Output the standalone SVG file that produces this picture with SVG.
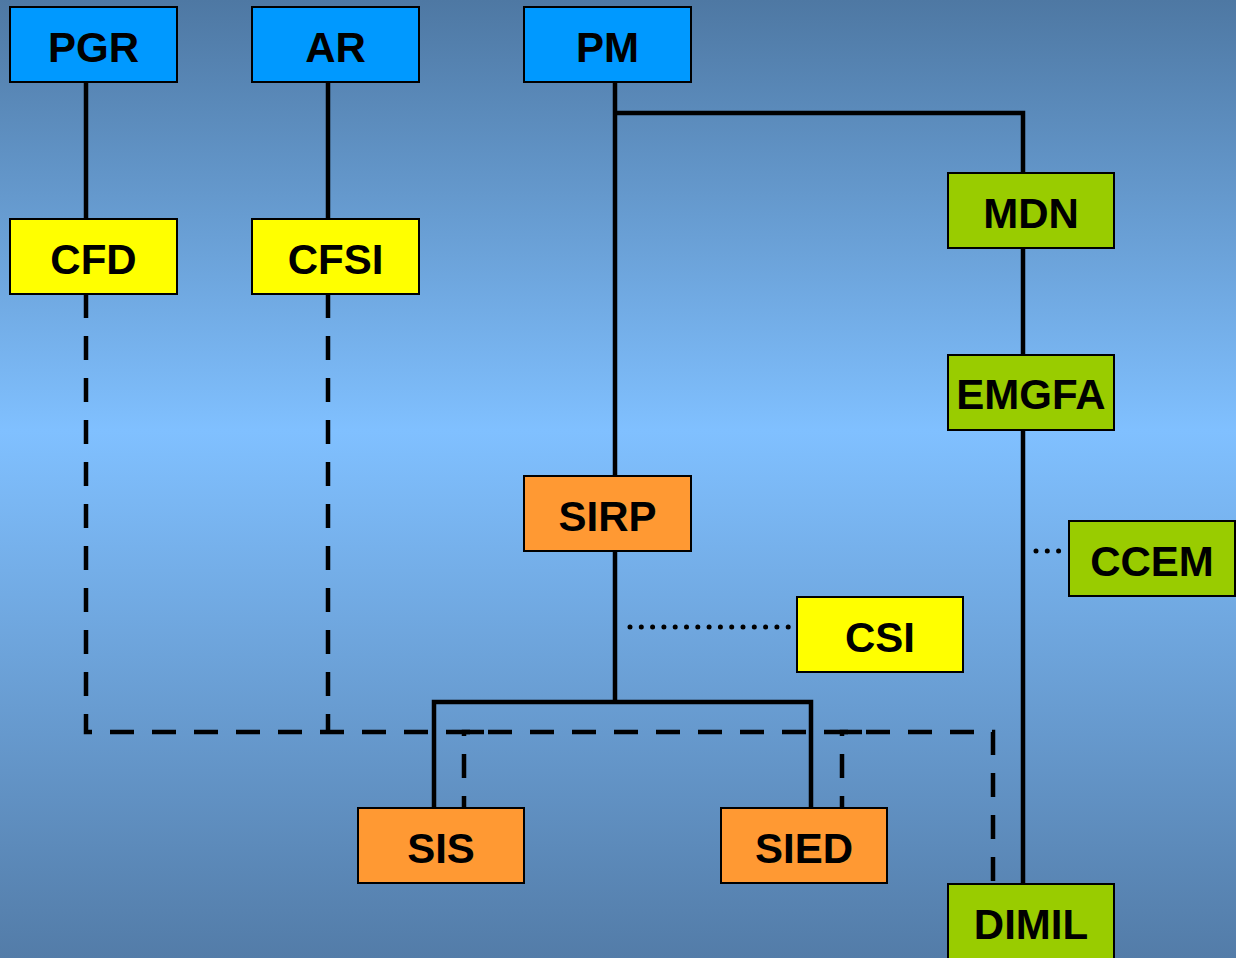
<svg xmlns="http://www.w3.org/2000/svg" width="1236" height="958" viewBox="0 0 1236 958">
<defs>
<linearGradient id="bg" x1="0" y1="0" x2="0" y2="1">
<stop offset="0" stop-color="#4e78a3"/>
<stop offset="0.45" stop-color="#80c0ff"/>
<stop offset="1" stop-color="#537ca8"/>
</linearGradient>
<style>
.box{stroke:#000;stroke-width:2}
.blue{fill:#0099ff}
.yellow{fill:#ffff00}
.green{fill:#99cc00}
.orange{fill:#ff9933}
.lbl{font-family:"Liberation Sans",Arial,sans-serif;font-weight:bold;font-size:42px;fill:#000;text-anchor:middle}
.solid{fill:none;stroke:#000;stroke-width:4.5}
.dash{fill:none;stroke:#000;stroke-width:4.5;stroke-dasharray:24 18}
.dot{fill:none;stroke:#000;stroke-width:5;stroke-linecap:round;stroke-dasharray:0 11.3}
</style>
</defs>
<rect x="0" y="0" width="1236" height="958" fill="url(#bg)"/>
<g id="connectors">
<path class="solid" d="M86,82 V219"/>
<path class="solid" d="M328,82 V219"/>
<path class="solid" d="M615,82 V476"/>
<path class="solid" d="M615,113 H1023 V173"/>
<path class="solid" d="M1023,248 V355"/>
<path class="solid" d="M1023,430 V884"/>
<path class="solid" d="M615,551 V702"/>
<path class="solid" d="M434,808 V702 H811 V808"/>
<path class="dash" d="M86,294 V732 H993 V884"/>
<path class="dash" d="M328,294 V732"/>
<path class="dash" d="M484,732 H464 V808"/>
<path class="dash" d="M862,732 H842 V808"/>
<path class="dot" d="M630,627 H790"/>
<path class="dot" d="M1036,551 H1062"/>
</g>
<g id="PGR"><rect class="box blue" x="10" y="7" width="167" height="75"/><text class="lbl" x="93.5" y="62">PGR</text></g>
<g id="AR"><rect class="box blue" x="252" y="7" width="167" height="75"/><text class="lbl" x="335.5" y="62">AR</text></g>
<g id="PM"><rect class="box blue" x="524" y="7" width="167" height="75"/><text class="lbl" x="607.5" y="62">PM</text></g>
<g id="CFD"><rect class="box yellow" x="10" y="219" width="167" height="75"/><text class="lbl" x="93.5" y="274">CFD</text></g>
<g id="CFSI"><rect class="box yellow" x="252" y="219" width="167" height="75"/><text class="lbl" x="335.5" y="274">CFSI</text></g>
<g id="MDN"><rect class="box green" x="948" y="173" width="166" height="75"/><text class="lbl" x="1031" y="228">MDN</text></g>
<g id="EMGFA"><rect class="box green" x="948" y="355" width="166" height="75"/><text class="lbl" x="1031" y="409">EMGFA</text></g>
<g id="SIRP"><rect class="box orange" x="524" y="476" width="167" height="75"/><text class="lbl" x="607.5" y="531">SIRP</text></g>
<g id="CCEM"><rect class="box green" x="1069" y="521" width="166" height="75"/><text class="lbl" x="1152" y="576">CCEM</text></g>
<g id="CSI"><rect class="box yellow" x="797" y="597" width="166" height="75"/><text class="lbl" x="880" y="652">CSI</text></g>
<g id="SIS"><rect class="box orange" x="358" y="808" width="166" height="75"/><text class="lbl" x="441" y="863">SIS</text></g>
<g id="SIED"><rect class="box orange" x="721" y="808" width="166" height="75"/><text class="lbl" x="804" y="863">SIED</text></g>
<g id="DIMIL"><rect class="box green" x="948" y="884" width="166" height="80"/><text class="lbl" x="1031" y="939">DIMIL</text></g>
</svg>
